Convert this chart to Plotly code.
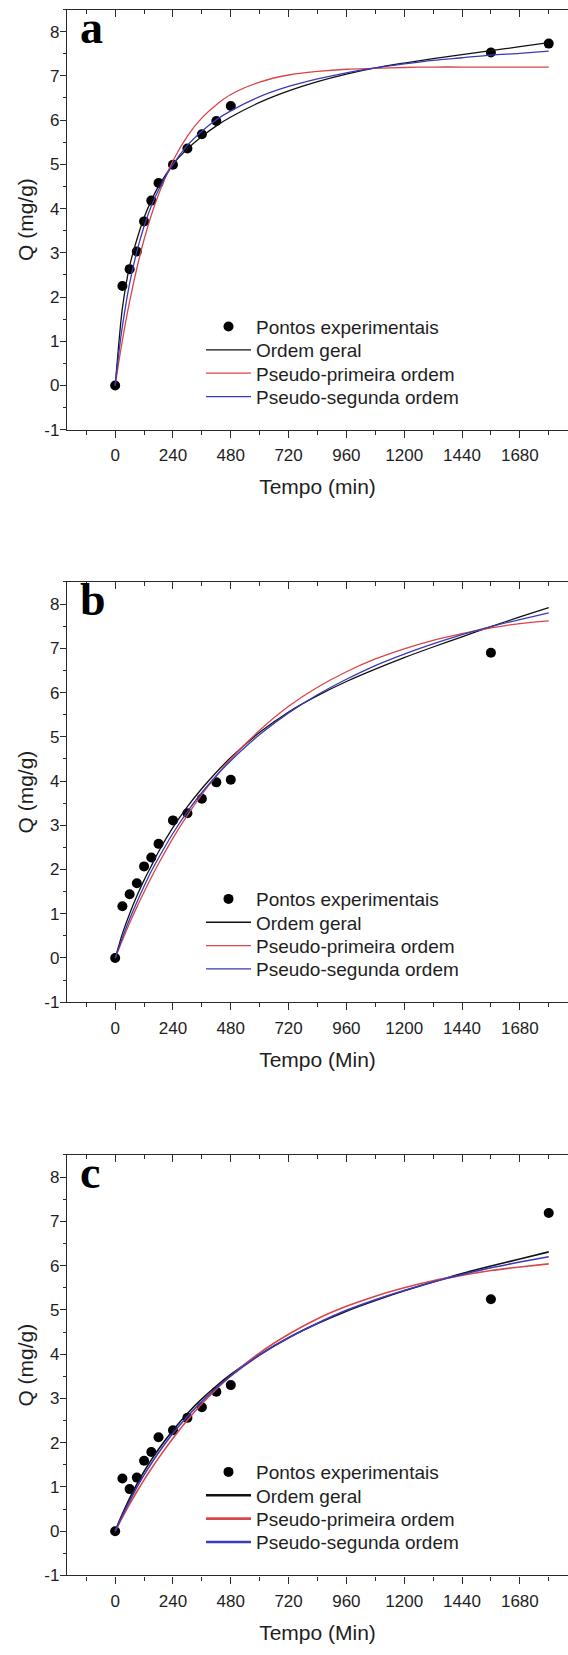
import plotly.graph_objects as go

# ---------------- data ----------------
T_EXP_A = [0, 30, 60, 90, 120, 150, 180, 240, 300, 360, 420, 480, 1560, 1800]
Q_EXP_A = [0, 2.25, 2.63, 3.03, 3.71, 4.18, 4.58, 4.99, 5.36, 5.68, 5.98, 6.32, 7.53, 7.73]

T_EXP_B = [0, 30, 60, 90, 120, 150, 180, 240, 300, 360, 420, 480, 1560]
Q_EXP_B = [0, 1.17, 1.44, 1.69, 2.07, 2.27, 2.58, 3.11, 3.27, 3.60, 3.97, 4.03, 6.90]

T_EXP_C = [0, 30, 60, 90, 120, 150, 180, 240, 300, 360, 420, 480, 1560, 1800]
Q_EXP_C = [0, 1.19, 0.95, 1.21, 1.59, 1.79, 2.12, 2.28, 2.56, 2.80, 3.15, 3.30, 5.24, 7.19]

T_FIT = [0, 15, 30, 60, 90, 120, 150, 180, 240, 300, 360, 420, 480, 600, 720,
         840, 960, 1080, 1200, 1320, 1440, 1560, 1680, 1800]

GERAL_A = [0, 0.95, 1.75, 2.70, 3.30, 3.80, 4.18, 4.50, 5.00, 5.35, 5.63, 5.87, 6.07,
           6.40, 6.66, 6.87, 7.04, 7.18, 7.29, 7.39, 7.48, 7.57, 7.66, 7.75]
PFO_A = [0, 0.53, 1.02, 1.90, 2.65, 3.30, 3.85, 4.32, 5.08, 5.64, 6.05, 6.35, 6.58,
         6.86, 7.02, 7.10, 7.15, 7.17, 7.19, 7.20, 7.20, 7.20, 7.20, 7.20]
PSO_A = [0, 0.73, 1.34, 2.31, 3.03, 3.60, 4.06, 4.42, 5.00, 5.43, 5.75, 6.01, 6.21,
         6.53, 6.76, 6.93, 7.07, 7.18, 7.27, 7.35, 7.41, 7.47, 7.51, 7.56]

GERAL_B = [0, 0.28, 0.55, 1.00, 1.40, 1.76, 2.08, 2.40, 2.95, 3.42, 3.83, 4.20, 4.53,
           5.10, 5.56, 5.93, 6.25, 6.53, 6.79, 7.03, 7.26, 7.49, 7.71, 7.92]
PFO_B = [0, 0.20, 0.40, 0.79, 1.15, 1.49, 1.82, 2.13, 2.71, 3.23, 3.70, 4.12, 4.50,
         5.15, 5.69, 6.12, 6.47, 6.76, 6.99, 7.18, 7.33, 7.46, 7.56, 7.62]
PSO_B = [0, 0.23, 0.46, 0.88, 1.26, 1.62, 1.96, 2.26, 2.82, 3.31, 3.74, 4.12, 4.46,
         5.05, 5.54, 5.95, 6.30, 6.61, 6.87, 7.10, 7.31, 7.49, 7.65, 7.80]

GERAL_C = [0, 0.20, 0.39, 0.74, 1.06, 1.35, 1.61, 1.85, 2.28, 2.66, 2.99, 3.28, 3.54,
           3.99, 4.37, 4.69, 4.97, 5.21, 5.43, 5.63, 5.82, 5.99, 6.15, 6.31]
PFO_C = [0, 0.16, 0.31, 0.61, 0.89, 1.16, 1.41, 1.65, 2.10, 2.51, 2.88, 3.21, 3.51,
         4.03, 4.45, 4.80, 5.08, 5.31, 5.50, 5.66, 5.78, 5.89, 5.97, 6.04]
PSO_C = [0, 0.18, 0.36, 0.68, 0.99, 1.27, 1.53, 1.77, 2.21, 2.59, 2.93, 3.24, 3.51,
         3.98, 4.37, 4.70, 4.99, 5.23, 5.44, 5.63, 5.80, 5.95, 6.08, 6.20]

PANEL_LABELS = ["a", "b", "c"]
X_TITLES = ["Tempo (min)", "Tempo (Min)", "Tempo (Min)"]
Y_TITLE = "Q (mg/g)"
NAMES = ["Pontos experimentais", "Ordem geral", "Pseudo-primeira ordem", "Pseudo-segunda ordem"]

X_TICKS = [0, 240, 480, 720, 960, 1200, 1440, 1680]
Y_TICKS = [-1, 0, 1, 2, 3, 4, 5, 6, 7, 8]
Y_TICKTEXT = ["-1", "0", "1", "2", "3", "4", "5", "6", "7", "8"]

# ---------------- styling ----------------
W, H = 568, 1655
FONT = "Liberation Sans, Arial, sans-serif"
AX = "#2a2a2a"
TXT = "#1e1e1e"
RED = "#d8454a"
BLUE = "#3a3ab8"
BLACK = "#111111"

X_RANGE = [-200, 1880]
Y_RANGE = [-1, 8.5]
X_DOM = [67 / W, 1.0]
PANELS_PX = [(9.6, 432.3), (585.5, 1008.3), (1162.0, 1585.0)]
LEG_X = 201
LEG_ROW0 = 319
LEG_STEP = 23.5

fig = go.Figure()

panels = [
    (T_EXP_A, Q_EXP_A, GERAL_A, PFO_A, PSO_A),
    (T_EXP_B, Q_EXP_B, GERAL_B, PFO_B, PSO_B),
    (T_EXP_C, Q_EXP_C, GERAL_C, PFO_C, PSO_C),
]

layout = dict(
    width=W, height=H, margin=dict(l=0, r=0, t=0, b=0),
    paper_bgcolor="white", plot_bgcolor="white",
    font=dict(family=FONT, color=TXT), showlegend=True,
    annotations=[],
)


def legend_key(k):
    return "legend" if k == 1 else f"legend{k}"


for i, (tx, qx, g, p1, p2) in enumerate(panels):
    n = i + 1
    xa = "x" if n == 1 else f"x{n}"
    ya = "y" if n == 1 else f"y{n}"
    top, bot = PANELS_PX[i]
    ydom = [1 - bot / H, 1 - top / H]
    curve_w = 1.6 if n == 3 else 1.3
    leg_w = 2.6 if n == 3 else 1.3
    legs = [legend_key(i * 4 + j + 1) for j in range(4)]

    fig.add_trace(go.Scatter(x=tx, y=qx, mode="markers", name=NAMES[0],
                             marker=dict(color="black", size=10),
                             xaxis=xa, yaxis=ya, legend=legs[0]))
    for j, (vals, col) in enumerate([(g, BLACK), (p1, RED), (p2, BLUE)], start=1):
        fig.add_trace(go.Scatter(x=T_FIT, y=vals, mode="lines", name=NAMES[j],
                                 line=dict(color=col, width=curve_w, shape="spline", smoothing=0.8),
                                 xaxis=xa, yaxis=ya, showlegend=False))
        fig.add_trace(go.Scatter(x=[None], y=[None], mode="lines", name=NAMES[j],
                                 line=dict(color=col, width=leg_w),
                                 xaxis=xa, yaxis=ya, legend=legs[j], hoverinfo="skip"))
    # invisible trace for the top mirror axis
    fig.add_trace(go.Scatter(x=[None], y=[None], xaxis=f"x{n + 3}", yaxis=ya,
                             showlegend=False, hoverinfo="skip"))

    xkey = "xaxis" if n == 1 else f"xaxis{n}"
    ykey = "yaxis" if n == 1 else f"yaxis{n}"
    layout[xkey] = dict(
        domain=X_DOM, range=X_RANGE, anchor=ya, tickmode="array", tickvals=X_TICKS,
        ticks="outside", ticklen=7, tickwidth=1.3, tickcolor=AX,
        showline=True, linecolor=AX, linewidth=1.4, showgrid=False, zeroline=False,
        tickfont=dict(size=17, family=FONT, color=TXT), ticklabelstandoff=3,
        minor=dict(ticks="outside", ticklen=4, tickwidth=1.2, tickcolor=AX, dtick=120, tick0=0, showgrid=False),
        title=dict(text=X_TITLES[i], font=dict(size=21, family=FONT, color=TXT), standoff=15),
    )
    layout[f"xaxis{n + 3}"] = dict(
        domain=X_DOM, range=X_RANGE, anchor=ya, overlaying=xa, side="top",
        tickmode="array", tickvals=X_TICKS, showticklabels=False,
        ticks="inside", ticklen=7, tickwidth=1.3, tickcolor=AX,
        showline=True, linecolor=AX, linewidth=1.4, showgrid=False, zeroline=False,
        minor=dict(ticks="inside", ticklen=4, tickwidth=1.2, tickcolor=AX, dtick=120, tick0=0, showgrid=False),
    )
    layout[ykey] = dict(
        domain=ydom, range=Y_RANGE, anchor=xa, tickmode="array", tickvals=Y_TICKS, ticktext=Y_TICKTEXT,
        ticks="outside", ticklen=6, tickwidth=1.3, tickcolor=AX,
        showline=True, linecolor=AX, linewidth=1.4, showgrid=False, zeroline=False,
        tickfont=dict(size=17, family=FONT, color=TXT), ticklabelstandoff=-3,
        minor=dict(ticks="outside", ticklen=3, tickwidth=1.2, tickcolor=AX, dtick=0.5, tick0=0, showgrid=False),
        title=dict(text=Y_TITLE, font=dict(size=21, family=FONT, color=TXT), standoff=4),
    )
    for j in range(4):
        layout[legs[j]] = dict(
            x=LEG_X / W, xanchor="left", y=1 - (top + LEG_ROW0 + j * LEG_STEP) / H, yanchor="middle",
            bgcolor="rgba(0,0,0,0)", borderwidth=0,
            font=dict(size=19, family=FONT, color=TXT), itemwidth=45,
        )
    layout["annotations"].append(dict(
        text=f"<b>{PANEL_LABELS[i]}</b>", xref="paper", yref="paper",
        x=78 / W, y=1 - (top + 18) / H, xanchor="left", yanchor="middle", showarrow=False,
        font=dict(size=46, family="Liberation Serif, Times New Roman, serif", color="black"),
    ))

fig.update_layout(**layout)
fig.write_html("out.html")
